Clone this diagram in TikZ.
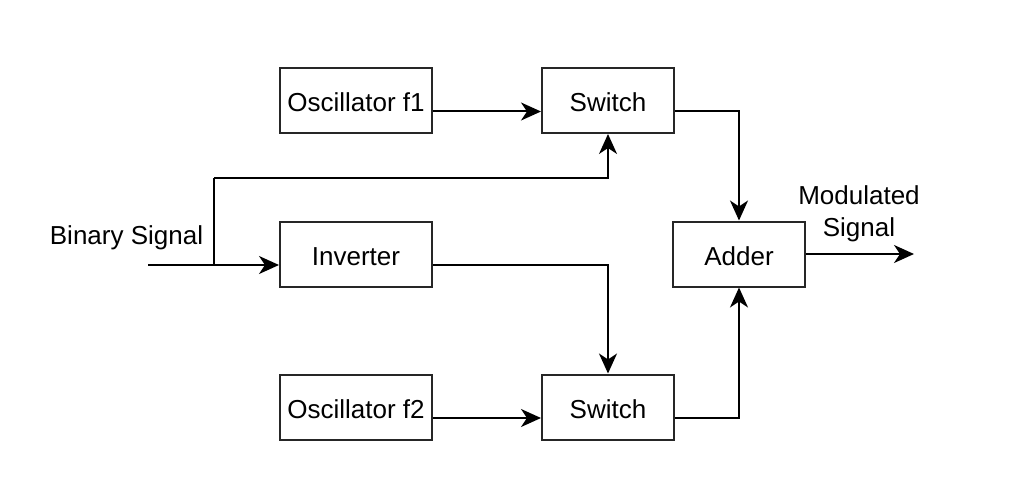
\documentclass[tikz,border=0pt]{standalone}
\usepackage{fontspec}
\setmainfont{Liberation Sans}
\usetikzlibrary{arrows.meta}
\begin{document}
\begin{tikzpicture}[x=1pt,y=-1pt,
  blk/.style={draw=black!85, line width=2pt, rectangle, inner sep=0pt,
    minimum height=65pt, text height=22.6pt, text depth=0pt,
    font=\fontsize{26}{30}\selectfont},
  wide/.style={blk, minimum width=152pt},
  narrow/.style={blk, minimum width=132pt},
  conn/.style={line width=2pt, -{Stealth[length=20pt,width=18pt,inset=6pt]}},
  lbl/.style={font=\fontsize{26}{32}\selectfont, align=center, inner sep=0pt}]
\useasboundingbox (0,0) rectangle (1032,492);
\fill[white] (0,0) rectangle (1032,492);
\node[wide] (osc1) at (356,100.5) {Oscillator f1};
\node[narrow] (sw1) at (608,100.5) {Switch};
\node[wide] (inv) at (356,254) {Inverter};
\node[narrow] (add) at (739,254) {Adder};
\node[wide] (osc2) at (356,407) {Oscillator f2};
\node[narrow] (sw2) at (608,407) {Switch};
\node[lbl] (bin) at (126.5,237.5) {Binary Signal};
\node[lbl] (mod) at (859,213.5) {Modulated\\Signal};
\coordinate (in) at (148,265);
\coordinate (br) at (214,265);
\coordinate (bend) at (214,177.5);
\coordinate (out) at (914,254);
\draw[conn] (in) -- ([yshift=-11pt]inv.west);
\draw[line width=2pt] (br) -- (bend);
\draw[conn] (bend) -| (sw1.south);
\draw[conn] ([yshift=-11pt]osc1.east) -- ([yshift=-11pt]sw1.west);
\draw[conn] ([yshift=-11pt]inv.east) -| (sw2.north);
\draw[conn] ([yshift=-11pt]osc2.east) -- ([yshift=-11pt]sw2.west);
\draw[conn] ([yshift=-11pt]sw1.east) -| (add.north);
\draw[conn] ([yshift=-11pt]sw2.east) -| (add.south);
\draw[conn] (add.east) -- (out);
\end{tikzpicture}
\end{document}
